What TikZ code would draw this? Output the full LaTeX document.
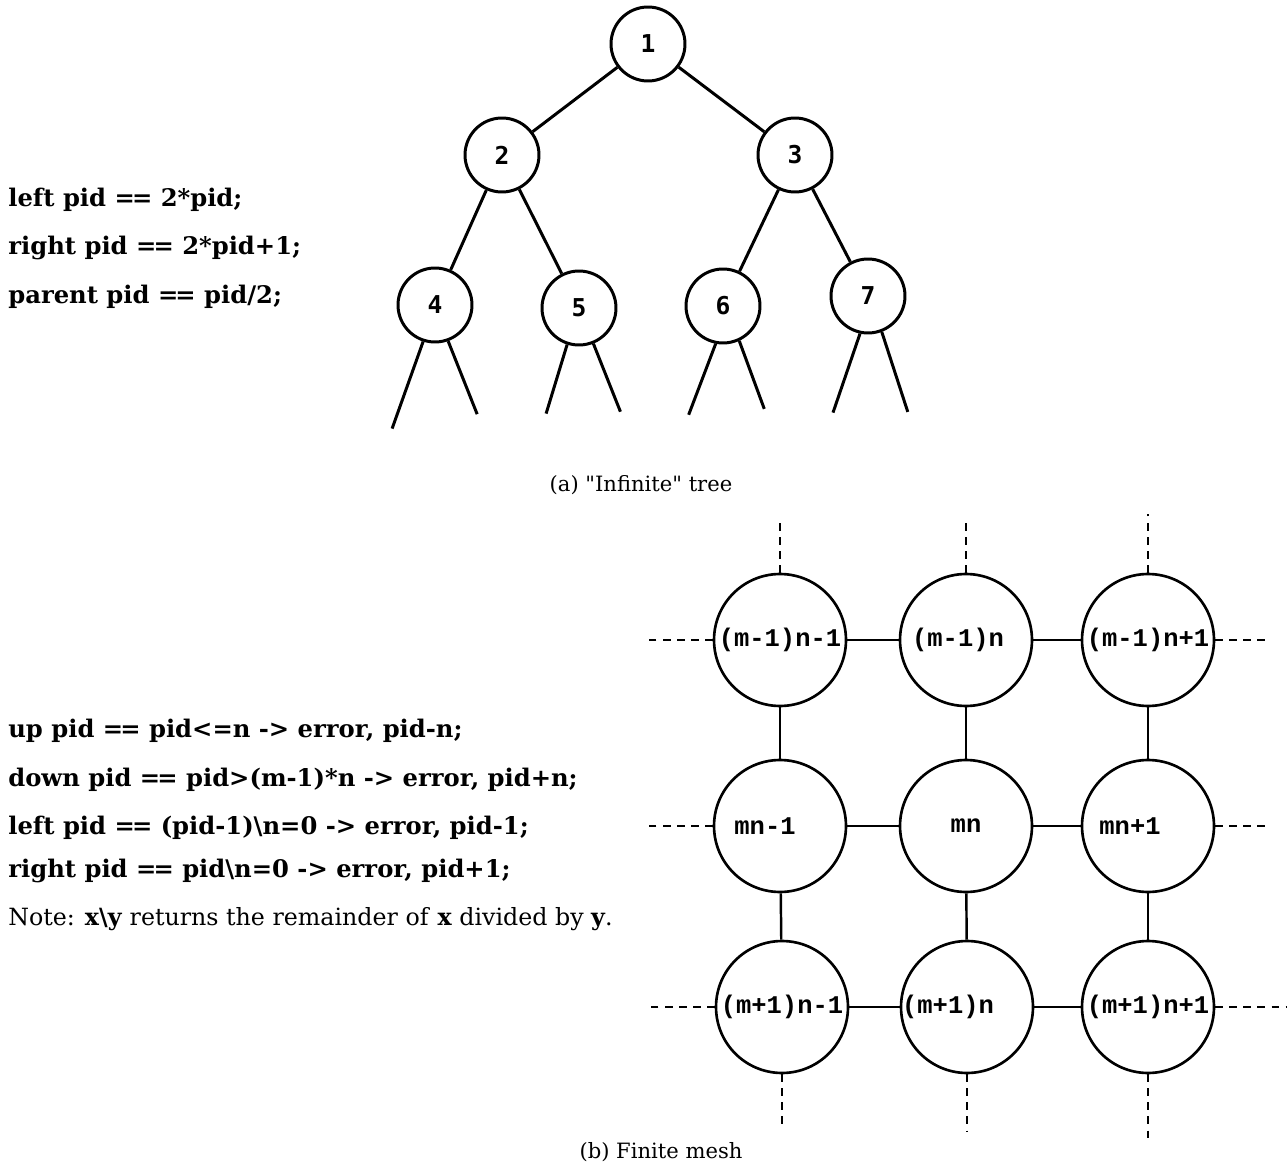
\documentclass[tikz,border=0pt]{standalone}
\usepackage{fontspec}
\setmainfont{DejaVu Serif}
\newfontfamily\meshfont{Liberation Mono}
\newfontfamily\treefont{DejaVu Sans Mono}
\newcommand\eqeq{=\kern-.12em=}
\newcommand\meshlbl[2][0pt]{\makebox[0pt]{#2\hspace*{#1}}}
\tikzset{
  treenode/.style={circle,draw,line width=1.7pt,minimum size=1.48cm,inner sep=0pt,font=\treefont\bfseries\fontsize{14}{14}\selectfont},
  meshnode/.style={circle,draw,line width=1.5pt,minimum size=2.64cm,inner sep=0pt,font=\meshfont\bfseries\fontsize{14.5}{14.5}\selectfont},
  treeline/.style={line width=1.7pt},
  meshline/.style={line width=1.4pt},
  stub/.style={line width=1.5pt,dash pattern=on 4.5pt off 3.5pt},
  rule/.style={anchor=base west,inner sep=0pt,font=\bfseries\fontsize{13.8}{16}\selectfont},
  capt/.style={inner sep=0pt,font=\fontsize{12}{14}\selectfont}
}
\begin{document}
\begin{tikzpicture}[x=0.02cm,y=-0.02cm]
  \useasboundingbox (0,0) rectangle (1288,1165);
  % (a) tree
  \node[treenode] (n1) at (648,44) {1};
  \node[treenode] (n2) at (502,155) {2};
  \node[treenode] (n3) at (795,155) {3};
  \node[treenode] (n4) at (435,305) {4};
  \node[treenode] (n5) at (579,308) {5};
  \node[treenode] (n6) at (723,306) {6};
  \node[treenode] (n7) at (868,296) {7};
  \draw[treeline] (n1) -- (n2);
  \draw[treeline] (n1) -- (n3);
  \draw[treeline] (n2) -- (n4);
  \draw[treeline] (n2) -- (n5);
  \draw[treeline] (n3) -- (n6);
  \draw[treeline] (n3) -- (n7);
  % open branches
  \draw[treeline] (n4.252) -- ++(-31,87);
  \draw[treeline] (n4.290) -- ++(29,73);
  \draw[treeline] (n5.252) -- ++(-21,69);
  \draw[treeline] (n5.292) -- ++(27,68);
  \draw[treeline] (n6.259) -- ++(-27,71);
  \draw[treeline] (n6.295) -- ++(25,68);
  \draw[treeline] (n7.258) -- ++(-27,79);
  \draw[treeline] (n7.291) -- ++(26,80);
  \node[rule] (tl) at (8,207) {left pid \eqeq{} 2*pid;};
  \node[rule] (tr) at (8,255) {right pid \eqeq{} 2*pid+1;};
  \node[rule] (tp) at (8,304) {parent pid \eqeq{} pid/2;};
  \node[capt] (capa) at (641,485) {(a) \textquotedbl Infinite\textquotedbl{} tree};
  % (b) mesh
  \node[meshnode] (m11) at (780,640) {\meshlbl{(m-1)n-1}};
  \node[meshnode] (m12) at (966,640) {\meshlbl[0.32cm]{(m-1)n}};
  \node[meshnode] (m13) at (1148,640) {\meshlbl{(m-1)n+1}};
  \node[meshnode] (m21) at (780,826) {\meshlbl[0.6cm]{mn-1}};
  \node[meshnode] (m22) at (966,826) {\meshlbl{mn}};
  \node[meshnode] (m23) at (1148,826) {\meshlbl[0.72cm]{mn+1}};
  \node[meshnode] (m31) at (782,1007) {\meshlbl{(m+1)n-1}};
  \node[meshnode] (m32) at (967,1007) {\meshlbl[0.76cm]{(m+1)n}};
  \node[meshnode] (m33) at (1148,1007) {\meshlbl{(m+1)n+1}};
  \draw[meshline] (m11) -- (m12);
  \draw[meshline] (m12) -- (m13);
  \draw[meshline] (m21) -- (m22);
  \draw[meshline] (m22) -- (m23);
  \draw[meshline] (m31) -- (m32);
  \draw[meshline] (m32) -- (m33);
  \draw[meshline] (m11) -- (m21);
  \draw[meshline] (m21) -- (m31);
  \draw[meshline] (m12) -- (m22);
  \draw[meshline] (m22) -- (m32);
  \draw[meshline] (m13) -- (m23);
  \draw[meshline] (m23) -- (m33);
  % edges of the mesh
  \draw[stub] (m11.north) -- ++(0,-50);
  \draw[stub] (m12.north) -- ++(0,-50);
  \draw[stub] (m13.north) -- ++(0,-59);
  \draw[stub] (m31.south) -- ++(0,55);
  \draw[stub] (m32.south) -- ++(0,57);
  \draw[stub] (m33.south) -- ++(0,70);
  \draw[stub] (m11.west) -- ++(-69,0);
  \draw[stub] (m21.west) -- ++(-64,0);
  \draw[stub] (m31.west) -- ++(-68,0);
  \draw[stub] (m13.east) -- ++(52,0);
  \draw[stub] (m23.east) -- ++(55,0);
  \draw[stub] (m33.east) -- ++(72,0);
  \node[rule] (mu) at (8,737) {up pid \eqeq{} pid<=n -> error, pid-n;};
  \node[rule] (md) at (8,786) {down pid \eqeq{} pid>(m-1)*n -> error, pid+n;};
  \node[rule] (ml) at (8,834) {left pid \eqeq{} (pid-1)\textbackslash n=0 -> error, pid-1;};
  \node[rule] (mr) at (8,877) {right pid \eqeq{} pid\textbackslash n=0 -> error, pid+1;};
  \node[rule,font=\fontsize{13.5}{16}\selectfont] (note) at (8,925) {Note: \textbf{x\textbackslash y} returns the remainder of \textbf{x} divided by \textbf{y}.};
  \node[capt] (capb) at (661,1152) {(b) Finite mesh};
\end{tikzpicture}
\end{document}
